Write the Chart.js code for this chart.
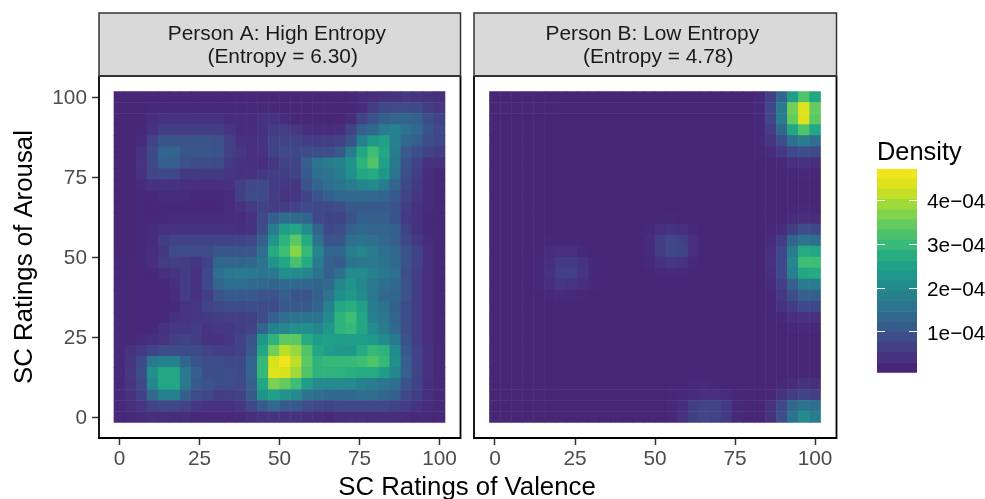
<!DOCTYPE html>
<html>
<head>
<meta charset="utf-8">
<title>Density by person</title>
<script src="https://cdn.jsdelivr.net/npm/chart.js@4"></script>
<style>
    html, body { margin: 0; padding: 0; background: #fff; overflow: hidden; }
    canvas { position: absolute; left: 0; top: 0; }
</style>
</head>
<body>
<canvas id="panelA" width="985" height="499"></canvas>
<canvas id="panelB" width="985" height="499"></canvas>
<canvas id="colorBar" width="985" height="499"></canvas>
<script>
// grid centres, same for valence and arousal
const gridSteps = [0, 3.45, 6.9, 10.34, 13.79, 17.24, 20.69, 24.14, 27.59, 31.03, 34.48, 37.93, 41.38, 44.83, 48.28,
    51.72, 55.17, 58.62, 62.07, 65.52, 68.97, 72.41, 75.86, 79.31, 82.76, 86.21, 89.66, 93.1, 96.55, 100]
const axisTicks = [0, 25, 50, 75, 100]
const legendTicks = [10, 20, 30, 40]
const legendLabels = ['1e\u221204', '2e\u221204', '3e\u221204', '4e\u221204']
const stripA = ['Person A: High Entropy ', ' (Entropy = 6.30)']
const stripB = ['Person B: Low Entropy ', ' (Entropy = 4.78)']
const xTitle = 'SC Ratings of Valence'
const yTitle = 'SC Ratings of Arousal'
const legendTitle = 'Density'

// density in 1e-5, rows run from arousal 100 down to 0
const densityA = [
    [1,1,1,1,1,1,1,1,1,1,1,1,1,1,1, 1,1,1,1,1,1,1.5,2,2.5,3,3.5,4,3.5,3,2.5],
    [1,1,1,1.5,1.5,1.5,1.5,1.5,1.5,1.5,1.5,1.5,1.5,1.5,1.5, 1,1,1,1,1,1,1,2,5,7,7.5,7.5,7.5,5,4],
    [1,1,1,2.5,3,3,3,3,3,3,2,2,2,3,3, 2,1,1,1,1,1,2,6,9,11,12,12,11,8,6],
    [1,1,1.5,3,5,5,5,5,5,5,3.5,2,2,3,5, 5,4,2.5,2,2,2.5,6,11,13,17,18,15,13,9,7],
    [1,1,2,6,9,9,9,9,9,8.5,5.5,3,2.5,3.5,6, 6,6,5,5,5,6,9,18,23,25,18,13,11,8,7],
    [1,1,3,7,12,12,9.5,9.5,9.5,9,5.5,4,2.5,3,6, 7,7,7.5,8,8,10,17,26,31,26,17,10,8,6,5],
    [1,1,3.5,7,11,11,8.5,8,8,7.5,4.5,3,2.5,2.5,4, 6,6,11,15,17,18,22,29,33,25,16,9,6,3,3],
    [1,1,3,6.5,7,7,4.5,4.5,4.5,4.5,3.5,3,3,4,5, 5,6,10,14,15,17,21,26,27,23,15,8,5,2,1.5],
    [1,1,2,3,3,3,2.5,2.5,2.5,2.5,3,5.5,7,7.5,5, 4,4,9,12,14,15,17,19,20,17,12,7,4.5,2,1.5],
    [1,1,1.5,1.5,2,2,2,1.5,1.5,1.5,2,5.5,7.5,7.5,5, 3.5,4,6,9,11,13,13,13,13,12,10,6,4,2,1.5],
    [1,1,1.3,1.3,1.3,1.3,1.3,1.3,1.3,1.3,2,3,4.5,6,5, 5,6,7,7,7,8,10,10,10,10,9,5,3,2,1.5],
    [1,1,1.5,1.5,1.5,2,2,2,2,2,2,2,3,7,11, 14,13,12,7,6,6,9,11,11,11,9,4.5,3,1.5,1.5],
    [1,1,1.5,2,3,3,3,3,3,3,3,2.5,3,8,17, 24,26,20,12,7,8,11,13,12,12,11,6,3,1.5,1.5],
    [1,1,1.5,2,5,6,6,6,6,6,6,6,7,11,22, 29,34,27,15,9,9,14,15,14,13,11,7,4.5,2,1.5],
    [1,1,1.5,2.5,4,7.5,7.5,7.5,7.5,9.5,9.5,9.5,9.5,14,27, 31,38,30,19,12,12,17,19,17,14,13,9,6,2.5,1.5],
    [1.5,1.5,1.5,2.5,5,5.5,5,4,6,12,12,12,13,15,22, 26,32,27,17,11,10,15,16,16,15,13,9,6,2.5,1.5],
    [1.5,1.5,1.5,1.5,2.5,3.5,5,3,7,14,16,17,16,15,16, 21,20,19,15,11,14,20,20,18,16,14,8,5,2.5,1.5],
    [1.2,1.2,1.2,1.2,1.2,2.5,5,3,7,12,14,14,13,13,12, 13,13,12,12,13,19,22,19,16,14,13,9,5,2.5,1.5],
    [1.2,1.2,1.2,1.2,1.2,2,5,3,5,9,10,10,10,9,9, 11,9,9,11,15,21,23,20,16,13,12,9,5,2.5,1.5],
    [1.2,1.2,1.2,1.2,1.2,1.2,3.5,4,6,7,7.5,7.5,8,8,8, 10,10,10,12,18,26,28,25,17,15,11,8,5,2.5,1.5],
    [1.2,1.2,1.2,1.2,1.3,3,3.5,4,4.5,5,5,5,5.5,8,11, 14,15,15,15,20,29,31,26,18,16,12,8,5,2.5,1.5],
    [1.2,1.2,1.2,1.5,3,4,4,5,3.5,4,4,5,6,12,18, 19,21,21,19,23,29,30,26,20,17,13,8,5,2.5,1.5],
    [1.3,1.3,2,2.5,3.5,5,6,5,3,3,4,6,9,23,29, 34,34,27,24,25,24,24,24,23,20,16,9,5,2.5,1.5],
    [1.2,3,4.5,6,8,8,7.5,7.5,6,5,5,6,10,26,36, 42,39,33,26,24,23,23,27,30,29,20,10,6,3,1.5],
    [1.5,3.5,7,16,18,18,12,9,8,8,7,7,12,30,44, 47,42,34,29,30,30,30,31,33,30,21,11,6,3,1.5],
    [1.5,4,8,21,26,26,16,11,8,8,8,7.5,12,30,45, 44,40,33,29,29,29,28,27,27,24,19,11,6,3,1.5],
    [1.5,3.5,7,19,26,26,16,10,9,8,8,7,11,26,37, 35,31,24,20,20,20,20,18,17,16,14,9,6,2.5,1.5],
    [1.5,3,5.5,13,18,18,11,8,7,5,5,6,10,22,25, 22,20,15,14,13,13,13,14,14,12,11,7,5,2.5,1.5],
    [1.3,2.5,4,6,7,7,6,4,3,3,3,4,7,10,13, 10,10,8,7,6,7,7,7,7,7,6,5,3.5,2,1.5],
    [1.3,1.5,2,2.5,2.5,2,2,1.5,1.2,1.2,1.2,1.5,2.5,3,3.5, 3,3,2.5,2,1.5,2.5,2.5,2.5,2.5,2.5,2.5,2,1.5,1.2,1.2]
]

const densityB = [
    [.8,.8,.8,.8,.8,.8,.8,.8,.8,.8,.8,.8,.8,.8,.8, .8,.8,.8,.8,.8,.8,.8,.8,.8,1.5,5.5,12,24,33,26],
    [.8,.8,.8,.8,.8,.8,.8,.8,.8,.8,.8,.8,.8,.8,.8, .8,.8,.8,.8,.8,.8,.8,.8,.8,1.5,6.5,17,36,45,35],
    [.8,.8,.8,.8,.8,.8,.8,.8,.8,.8,.8,.8,.8,.8,.8, .8,.8,.8,.8,.8,.8,.8,.8,.8,1.5,6.5,17,35,45,34],
    [.8,.8,.8,.8,.8,.8,.8,.8,.8,.8,.8,.8,.8,.8,.8, .8,.8,.8,.8,.8,.8,.8,.8,.8,1.5,5,13,26,33,26],
    [.8,.8,.8,.8,.8,.8,.8,.8,.8,.8,.8,.8,.8,.8,.8, .8,.8,.8,.8,.8,.8,.8,.8,.8,1.5,3.5,8,14,17,14],
    [.8,.8,.8,.8,.8,.8,.8,.8,.8,.8,.8,.8,.8,.8,.8, .8,.8,.8,.8,.8,.8,.8,.8,.8,1,2,4,7,8,7],
    [.8,.8,.8,.8,.8,.8,.8,.8,.8,.8,.8,.8,.8,.8,.8, .8,.8,.8,.8,.8,.8,.8,.8,.8,.8,1,1.5,2.5,3,2.5],
    [.8,.8,.8,.8,.8,.8,.8,.8,.8,.8,.8,.8,.8,.8,.8, .8,.8,.8,.8,.8,.8,.8,.8,.8,.8,.8,.8,1,1.2,1],
    [.8,.8,.8,.8,.8,.8,.8,.8,.8,.8,.8,.8,.8,.8,.8, .8,.8,.8,.8,.8,.8,.8,.8,.8,.8,.8,.8,.8,.8,.8],
    [.8,.8,.8,.8,.8,.8,.8,.8,.8,.8,.8,.8,.8,.8,.8, .8,.8,.8,.8,.8,.8,.8,.8,.8,.8,.8,.8,.8,.8,.8],
    [.8,.8,.8,.8,.8,.8,.8,.8,.8,.8,.8,.8,.8,.8,.8, .8,.8,.8,.8,.8,.8,.8,.8,.8,.8,.8,.8,1,1.2,1],
    [.8,.8,.8,.8,.8,.8,.8,.8,.8,.8,.8,.8,.8,.8,.8, 1,1.5,1,.8,.8,.8,.8,.8,.8,.8,.8,1,2,2.5,2],
    [.8,.8,.8,.8,.8,.8,.8,.8,.8,.8,.8,.8,.8,1,1.5, 2.5,3,2.5,1.5,.8,.8,.8,.8,.8,.8,1.3,2,5,8,7],
    [.8,.8,.8,.8,.8,1,1,1,.8,.8,.8,.8,.8,.8,2, 5,6.5,5.5,2.5,.8,.8,.8,.8,.8,.8,2,5,12,15,14],
    [.8,.8,.8,.8,1,2,2.5,2.5,1.5,.8,.8,.8,.8,.8,2, 5,7,6,2.5,.8,.8,.8,.8,.8,.8,2.5,7,17,27,26],
    [.8,.8,.8,1,1.5,2.5,4.5,4.5,3,1.5,.8,.8,.8,.8,1.5, 3,4,3.5,1.5,.8,.8,.8,.8,.8,.8,3,7,19,31,31],
    [.8,.8,.8,1,1.5,3,5.5,5.5,3.5,1.5,.8,.8,.8,.8,.8, 1.2,1.5,1.2,.8,.8,.8,.8,.8,.8,.8,2.5,7,18,26,27],
    [.8,.8,.8,.8,1.2,2.5,4,3.5,2.5,1.2,.8,.8,.8,.8,.8, .8,.8,.8,.8,.8,.8,.8,.8,.8,.8,2,5.5,11,17,17],
    [.8,.8,.8,.8,.8,1.2,1.8,1.5,1,.8,.8,.8,.8,.8,.8, .8,.8,.8,.8,.8,.8,.8,.8,.8,.8,1.5,4,8,11,11],
    [.8,.8,.8,.8,.8,.8,.8,.8,.8,.8,.8,.8,.8,.8,.8, .8,.8,.8,.8,.8,.8,.8,.8,.8,.8,1,3,5,7,7],
    [.8,.8,.8,.8,.8,.8,.8,.8,.8,.8,.8,.8,.8,.8,.8, .8,.8,.8,.8,.8,.8,.8,.8,.8,.8,.8,1.5,2.5,3,3],
    [.8,.8,.8,.8,.8,.8,.8,.8,.8,.8,.8,.8,.8,.8,.8, .8,.8,.8,.8,.8,.8,.8,.8,.8,.8,.8,.8,1.2,1.3,1.2],
    [.8,.8,.8,.8,.8,.8,.8,.8,.8,.8,.8,.8,.8,.8,.8, .8,.8,.8,.8,.8,.8,.8,.8,.8,.8,.8,.8,.8,.8,.8],
    [.8,.8,.8,.8,.8,.8,.8,.8,.8,.8,.8,.8,.8,.8,.8, .8,.8,.8,.8,.8,.8,.8,.8,.8,.8,.8,.8,.8,.8,.8],
    [.8,.8,.8,.8,.8,.8,.8,.8,.8,.8,.8,.8,.8,.8,.8, .8,.8,.8,.8,.8,.8,.8,.8,.8,.8,.8,.8,.8,.8,.8],
    [.8,.8,.8,.8,.8,.8,.8,.8,.8,.8,.8,.8,.8,.8,.8, .8,.8,.8,.8,.8,.8,.8,.8,.8,.8,.8,.8,.8,.8,.8],
    [.8,.8,.8,.8,.8,.8,.8,.8,.8,.8,.8,.8,.8,.8,.8, .8,.8,1,1.2,1.2,1,.8,.8,.8,.8,.8,1.5,2,3,2.5],
    [.8,.8,.8,.8,.8,.8,.8,.8,.8,.8,.8,.8,.8,.8,.8, .8,1,1.5,2,2.5,2.5,2,1,.8,.8,1,3,5,6,5.5],
    [.8,.8,.8,.8,.8,.8,.8,.8,.8,.8,.8,.8,.8,.8,.8, .8,1.2,2.5,5,6,6,4.5,1.5,.8,.8,3,7,13,15,14],
    [.8,.8,.8,.8,.8,.8,.8,.8,.8,.8,.8,.8,.8,.8,.8, .8,1.2,3,5.5,6.5,6,4.5,1.5,.8,.8,3,8,15,20,17]
]

// viridis, cut at the dark end as in the legend
const viridis = ['#482576', '#463480', '#414487', '#3b528b', '#33638d', '#2d708e', '#287d8e', '#238a8d',
    '#1f968b', '#20a386', '#29af7f', '#3cbc75', '#56c667', '#74d055', '#95d840', '#b8de29', '#dce319', '#f1e51d']
const viridisRgb = viridis.map(c => [1, 3, 5].map(p => parseInt(c.substr(p, 2), 16)))
const legendMin = 0.68
const legendMax = 47.26
const bandCount = 20

// same mapping for cells and legend
const densityColor = (v) => {
    const f = Math.min(1, Math.max(0, (v - legendMin) / (legendMax - legendMin)))
    const t = f * (viridisRgb.length - 1)
    const i = Math.min(viridisRgb.length - 2, Math.floor(t))
    const k = t - i
    const rgb = viridisRgb[i].map((c, n) => Math.round(c + (viridisRgb[i + 1][n] - c) * k))
    return `rgb(${rgb.join(',')})`
}

const toCells = (rows) => {
    const cells = []
    rows.forEach((row, r) => {
        row.forEach((v, c) => {
            cells.push({ x: gridSteps[c], y: gridSteps[29 - r], v: v })
        })
    })
    return cells
}

// strip above the panel and black frame around it
const panelFrame = {
    id: 'panelFrame',
    beforeDraw(chart) {
        const a = chart.chartArea
        const ctx = chart.ctx
        ctx.save()
        ctx.fillStyle = '#d9d9d9'
        ctx.strokeStyle = '#333333'
        ctx.lineWidth = 1.5
        ctx.fillRect(a.left, 13, a.right - a.left, a.top - 13)
        ctx.strokeRect(a.left, 13, a.right - a.left, a.top - 13)
        ctx.restore()
    },
    afterDraw(chart) {
        const a = chart.chartArea
        const ctx = chart.ctx
        ctx.save()
        ctx.strokeStyle = '#000'
        ctx.lineWidth = 1.8
        ctx.beginPath()
        ctx.moveTo(a.left, a.top)
        ctx.lineTo(a.left, a.bottom)
        ctx.lineTo(a.right, a.bottom)
        ctx.lineTo(a.right, a.top)
        ctx.stroke()
        ctx.strokeStyle = '#333333'
        ctx.lineWidth = 2
        ctx.beginPath()
        ctx.moveTo(a.left, a.top)
        ctx.lineTo(a.right, a.top)
        ctx.stroke()
        ctx.restore()
    }
}

// the x title belongs to both panels
const sharedTitle = {
    id: 'sharedTitle',
    afterDraw(chart) {
        const ctx = chart.ctx
        ctx.save()
        ctx.fillStyle = '#000'
        ctx.font = '25.8px "Liberation Sans"'
        ctx.textAlign = 'center'
        ctx.textBaseline = 'alphabetic'
        ctx.fillText(xTitle, 467, 495)
        ctx.restore()
    }
}

const tickFont = { family: 'Liberation Sans', size: 20.8 }
// blank first line + small line height nudges the label down a little
const yTickFont = { family: 'Liberation Sans', size: 20.8, lineHeight: '3px' }
const legendTickFont = { family: 'Liberation Sans', size: 20.8, lineHeight: '4px' }
const setTicks = (list) => (scale) => { scale.ticks = list.map(v => ({ value: v })) }

const makePanel = (id, rows, strip, opts) => new Chart(document.getElementById(id), {
    type: 'scatter',
    data: {
        datasets: [{
            data: toCells(rows),
            pointStyle: 'rect',
            pointRadius: 8.2,
            pointHoverRadius: 8.2,
            pointBorderWidth: 0,
            pointBackgroundColor: (c) => densityColor(c.raw ? c.raw.v : 0)
        }]
    },
    options: {
        responsive: false,
        animation: false,
        events: [],
        layout: { padding: { left: 0, top: 13, right: 985 - opts.right, bottom: 0 } },
        plugins: {
            legend: { display: false },
            tooltip: { enabled: false },
            title: {
                display: true,
                fullSize: false,
                text: strip,
                color: '#1a1a1a',
                font: { family: 'Liberation Sans', size: 20.9, weight: 'normal', lineHeight: 1.07 },
                padding: { top: 10.5, bottom: 7.8 }
            }
        },
        scales: {
            x: {
                type: 'linear',
                min: opts.xMin,
                max: opts.xMax,
                afterBuildTicks: setTicks(axisTicks),
                afterFit: (s) => { s.height = 61 },
                grid: { drawOnChartArea: false, tickLength: 7, tickWidth: 1.5, tickColor: '#333333' },
                border: { display: false },
                ticks: { color: '#4d4d4d', font: tickFont, padding: 2, maxRotation: 0, autoSkip: false }
            },
            y: {
                type: 'linear',
                min: -6.56,
                max: 106.56,
                afterBuildTicks: setTicks(axisTicks),
                afterFit: (s) => { s.width = opts.left },
                grid: { display: opts.showY, drawOnChartArea: false, tickLength: 7, tickWidth: 1.5, tickColor: '#333333' },
                border: { display: false },
                ticks: {
                    display: opts.showY,
                    color: '#4d4d4d',
                    font: yTickFont,
                    padding: 5,
                    autoSkip: false,
                    callback: (v) => ['', String(v)]
                },
                title: {
                    display: opts.showY,
                    text: yTitle,
                    color: '#000',
                    font: { family: 'Liberation Sans', size: 25.8 },
                    padding: { top: 9.5, bottom: 0 }
                }
            }
        }
    },
    plugins: opts.showY ? [panelFrame, sharedTitle] : [panelFrame]
})

makePanel('panelA', densityA, stripA, { left: 99, right: 460.5, xMin: -6.4, xMax: 106.56, showY: true })
makePanel('panelB', densityB, stripB, { left: 474, right: 836.5, xMin: -6.56, xMax: 106.7, showY: false })

// legend: stepped colour bar
const bandData = []
for (let i = 0; i < bandCount; i++) {
    const step = (legendMax - legendMin) / bandCount
    const lo = legendMin + i * step
    bandData.push({
        data: [[lo, lo + step]],
        backgroundColor: densityColor(legendMin + (legendMax - legendMin) * i / (bandCount - 1)),
        borderWidth: 0,
        grouped: false,
        barPercentage: 1,
        categoryPercentage: 1
    })
}

new Chart(document.getElementById('colorBar'), {
    type: 'bar',
    data: { labels: [legendTitle], datasets: bandData },
    options: {
        responsive: false,
        animation: false,
        events: [],
        layout: { padding: { left: 877, top: 138.25, right: 0, bottom: 126.3 } },
        plugins: {
            legend: { display: false },
            tooltip: { enabled: false },
            title: {
                display: true,
                fullSize: true,
                align: 'start',
                text: legendTitle,
                color: '#000',
                font: { family: 'Liberation Sans', size: 25.4, weight: 'normal', lineHeight: 1.2 },
                padding: { top: 0, bottom: 0 }
            }
        },
        scales: {
            x: { display: false },
            y: {
                position: 'right',
                min: legendMin,
                max: legendMax,
                afterBuildTicks: setTicks(legendTicks),
                afterFit: (s) => { s.width = 68 },
                grid: { z: 1, color: '#fff', lineWidth: 1, drawTicks: false },
                border: { display: false, dash: [8, 24, 8] },
                ticks: {
                    color: '#000',
                    font: legendTickFont,
                    padding: 10,
                    autoSkip: false,
                    callback: (v) => ['', legendLabels[legendTicks.indexOf(v)]]
                }
            }
        }
    }
})
</script>
</body>
</html>
